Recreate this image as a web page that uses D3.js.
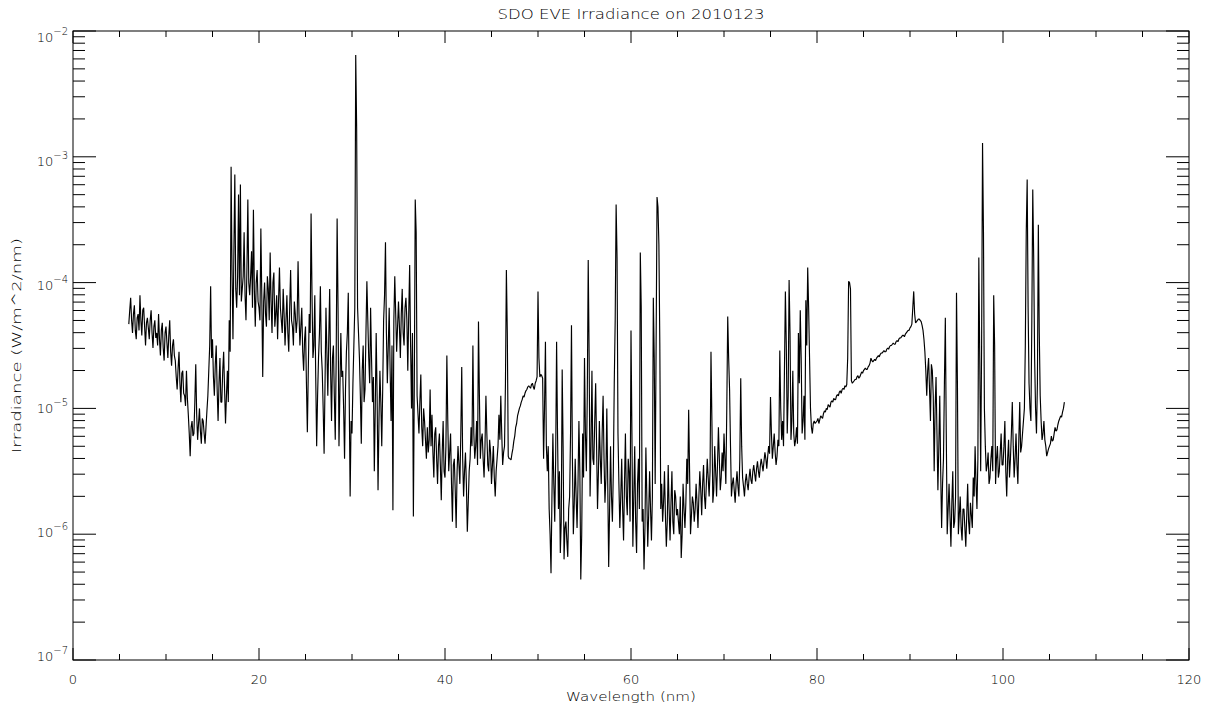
<!DOCTYPE html>
<html lang="en">
<head>
<meta charset="utf-8">
<title>SDO EVE Irradiance</title>
<script src="https://d3js.org/d3.v7.min.js"></script>
<style>
  body { margin: 0; background: #fff; }
  svg text { font-family: "DejaVu Sans", sans-serif; font-weight: 300; fill: #000; }
</style>
</head>
<body>
<script>
// spectrum sampled every 0.1 nm, values are log10 of irradiance (W/m^2/nm)
// one row per nm, first value of each row is at the whole nm
var wavelengthStart = 6.0;
var wavelengthStep = 0.1;
var logIrradiance = [
  -4.33,-4.22,-4.12,-4.30,-4.40,-4.25,-4.18,-4.38,-4.45,-4.28,  // 6
  -4.25,-4.38,-4.10,-4.30,-4.42,-4.22,-4.20,-4.35,-4.50,-4.32,
  -4.28,-4.36,-4.45,-4.30,-4.22,-4.40,-4.52,-4.35,-4.30,-4.44,
  -4.40,-4.50,-4.25,-4.45,-4.58,-4.38,-4.32,-4.52,-4.62,-4.40,
  -4.35,-4.48,-4.60,-4.42,-4.30,-4.55,-4.66,-4.50,-4.45,-4.58,  // 10
  -4.62,-4.75,-4.85,-4.68,-4.55,-4.80,-4.95,-4.72,-4.70,-4.88,
  -4.90,-4.98,-4.70,-4.92,-5.05,-5.20,-5.38,-5.15,-5.10,-5.22,
  -5.20,-4.95,-4.65,-5.05,-5.25,-5.12,-5.00,-5.18,-5.28,-5.08,
  -5.10,-5.20,-5.28,-5.15,-5.02,-4.90,-4.70,-4.50,-4.03,-4.60,
  -4.45,-4.75,-4.90,-4.65,-4.50,-4.85,-5.10,-4.80,-4.60,-4.95,  // 15
  -4.95,-4.70,-4.55,-4.85,-5.12,-4.90,-4.70,-4.95,-4.30,-4.55,
  -3.08,-3.90,-4.45,-3.75,-3.14,-4.05,-4.20,-3.95,-3.30,-4.10,
  -3.22,-4.15,-4.05,-3.95,-3.60,-4.10,-4.30,-3.90,-3.34,-4.00,
  -4.10,-3.95,-3.75,-4.20,-3.42,-4.05,-4.35,-4.00,-3.90,-4.15,
  -4.20,-4.30,-3.57,-4.10,-4.75,-4.15,-4.00,-4.25,-4.35,-3.95,  // 20
  -4.05,-4.30,-3.76,-4.15,-4.40,-4.00,-3.92,-4.35,-4.25,-4.10,
  -4.45,-4.15,-3.88,-4.20,-4.30,-4.40,-4.05,-4.25,-4.50,-4.30,
  -4.10,-4.40,-4.55,-4.20,-3.90,-4.30,-4.35,-4.50,-4.15,-4.25,
  -4.40,-4.30,-3.83,-4.25,-4.50,-4.35,-4.20,-4.55,-4.70,-4.45,
  -4.35,-4.80,-5.19,-4.70,-4.25,-4.40,-3.45,-4.10,-4.60,-4.50,  // 25
  -4.10,-4.75,-5.30,-4.90,-4.60,-4.40,-4.03,-4.55,-4.70,-5.00,
  -5.36,-4.80,-4.20,-4.55,-4.90,-4.45,-4.05,-4.70,-5.10,-4.60,
  -4.50,-4.90,-5.25,-4.60,-3.49,-4.20,-5.30,-4.85,-4.40,-4.75,
  -4.70,-5.00,-5.40,-4.85,-4.55,-4.40,-4.08,-4.90,-5.70,-5.10,
  -5.20,-4.80,-4.50,-4.20,-2.19,-2.77,-4.20,-4.40,-4.60,-4.90,  // 30
  -5.28,-4.70,-4.50,-4.95,-4.85,-4.40,-3.99,-4.30,-4.60,-4.80,
  -4.20,-4.60,-4.95,-4.75,-5.50,-5.00,-4.40,-4.90,-5.65,-5.10,
  -4.70,-4.95,-5.30,-4.85,-4.30,-4.10,-3.68,-4.40,-4.80,-4.50,
  -4.20,-4.70,-5.10,-4.50,-5.81,-4.30,-3.95,-4.25,-4.55,-4.35,
  -4.15,-4.35,-4.60,-4.25,-4.05,-4.40,-4.50,-4.20,-4.12,-4.30,  // 35
  -4.70,-4.25,-3.86,-4.50,-5.00,-4.40,-5.86,-4.80,-3.34,-3.60,
  -4.90,-5.05,-5.20,-4.95,-4.73,-5.15,-5.30,-5.00,-5.10,-5.25,
  -5.40,-5.15,-5.35,-5.25,-4.85,-5.30,-5.05,-5.35,-5.55,-5.20,
  -5.15,-5.40,-5.60,-5.30,-5.20,-5.45,-5.73,-5.35,-5.10,-5.50,
  -5.55,-5.30,-4.58,-5.10,-5.50,-5.35,-5.20,-5.60,-5.90,-5.45,  // 40
  -5.40,-5.65,-5.95,-5.50,-5.30,-5.45,-5.60,-5.20,-4.67,-5.40,
  -5.70,-5.50,-5.35,-5.60,-5.98,-5.75,-5.50,-5.40,-5.15,-5.30,
  -4.50,-5.20,-5.40,-5.30,-5.10,-5.45,-4.31,-4.90,-5.40,-5.25,
  -5.20,-5.40,-5.55,-5.30,-4.90,-5.20,-5.45,-5.50,-5.25,-5.35,
  -5.60,-5.45,-5.30,-5.55,-5.70,-5.50,-5.40,-5.30,-5.05,-5.25,  // 45
  -4.90,-5.20,-5.45,-5.35,-5.30,-4.80,-3.90,-4.40,-5.38,-5.40,
  -5.40,-5.41,-5.36,-5.32,-5.26,-5.22,-5.15,-5.12,-5.06,-5.03,
  -5.00,-4.98,-4.95,-4.93,-4.90,-4.91,-4.88,-4.86,-4.85,-4.83,
  -4.82,-4.83,-4.84,-4.81,-4.80,-4.83,-4.85,-4.80,-4.78,-4.75,
  -4.07,-4.60,-4.75,-4.73,-4.74,-4.76,-5.40,-5.00,-4.47,-5.30,  // 50
  -5.50,-5.30,-5.80,-6.00,-6.31,-5.70,-5.20,-5.60,-5.90,-5.40,
  -4.47,-5.20,-5.80,-5.50,-6.15,-5.90,-4.69,-5.30,-6.20,-5.95,
  -5.90,-6.05,-6.18,-5.80,-5.70,-5.20,-4.34,-5.40,-6.00,-5.75,
  -5.40,-5.70,-5.95,-5.60,-5.10,-5.50,-6.36,-6.00,-5.20,-5.55,
  -4.60,-5.20,-5.50,-4.90,-3.82,-4.60,-5.70,-5.30,-4.70,-5.40,  // 55
  -5.45,-5.10,-4.80,-5.30,-5.80,-5.50,-5.10,-5.40,-5.60,-5.20,
  -4.90,-5.40,-5.75,-5.55,-5.00,-5.60,-6.26,-5.80,-5.30,-5.70,
  -5.90,-5.50,-4.80,-4.30,-3.38,-3.80,-5.20,-5.60,-5.95,-5.70,
  -5.40,-5.80,-6.05,-5.60,-5.20,-5.70,-5.85,-5.40,-5.50,-5.90,
  -4.38,-5.20,-6.10,-5.70,-5.30,-5.90,-6.15,-5.60,-5.40,-5.80,  // 60
  -3.76,-4.20,-5.90,-5.80,-6.28,-5.95,-5.31,-5.70,-6.10,-5.85,
  -5.50,-5.80,-6.05,-5.70,-4.12,-4.60,-5.60,-4.50,-3.32,-3.40,
  -3.70,-4.50,-5.80,-5.60,-5.90,-5.75,-5.50,-5.85,-6.10,-5.90,
  -5.45,-5.80,-6.05,-5.75,-5.50,-5.90,-6.00,-5.65,-5.70,-5.85,
  -5.80,-5.90,-6.00,-5.70,-6.19,-6.00,-5.60,-5.80,-5.95,-5.75,  // 65
  -5.40,-5.60,-5.01,-5.50,-6.00,-5.85,-5.70,-5.75,-5.90,-5.80,
  -5.60,-5.75,-5.95,-5.70,-5.50,-5.65,-5.85,-5.60,-5.45,-5.70,
  -5.80,-5.60,-5.40,-5.55,-5.70,-5.50,-4.55,-5.10,-5.75,-5.65,
  -5.30,-5.50,-5.70,-5.45,-5.15,-5.40,-5.65,-5.55,-5.35,-5.50,
  -5.20,-5.40,-5.60,-5.00,-4.27,-4.60,-4.85,-5.30,-5.70,-5.60,  // 70
  -5.55,-5.65,-5.75,-5.60,-5.50,-5.62,-5.70,-5.40,-4.76,-5.30,
  -5.55,-5.62,-5.70,-5.58,-5.52,-5.60,-5.65,-5.55,-5.48,-5.57,
  -5.60,-5.50,-5.45,-5.52,-5.58,-5.48,-5.42,-5.50,-5.55,-5.46,
  -5.40,-5.45,-5.50,-5.42,-5.35,-5.40,-5.48,-5.38,-5.30,-5.36,
  -4.91,-5.20,-5.40,-5.30,-5.20,-5.35,-5.45,-5.38,-5.25,-5.30,  // 75
  -4.54,-5.00,-5.25,-5.10,-5.30,-4.70,-4.07,-4.50,-5.20,-4.90,
  -3.98,-4.40,-5.25,-5.10,-4.70,-5.20,-5.30,-5.25,-5.15,-5.28,
  -4.40,-4.80,-4.22,-4.60,-5.20,-5.10,-4.90,-5.25,-4.14,-4.50,
  -3.88,-4.20,-4.60,-5.00,-5.15,-5.20,-5.12,-5.10,-5.12,-5.11,
  -5.10,-5.08,-5.12,-5.09,-5.06,-5.07,-5.08,-5.04,-5.02,-5.03,  // 80
  -5.00,-5.01,-4.97,-4.98,-4.99,-4.95,-4.94,-4.95,-4.92,-4.93,
  -4.93,-4.90,-4.89,-4.90,-4.87,-4.86,-4.88,-4.85,-4.84,-4.85,
  -4.82,-4.83,-4.81,-4.60,-3.99,-4.00,-4.05,-4.78,-4.80,-4.79,
  -4.78,-4.77,-4.77,-4.75,-4.74,-4.76,-4.75,-4.73,-4.71,-4.72,
  -4.70,-4.69,-4.68,-4.69,-4.69,-4.67,-4.66,-4.64,-4.60,-4.62,  // 85
  -4.63,-4.62,-4.61,-4.62,-4.60,-4.59,-4.58,-4.59,-4.57,-4.56,
  -4.56,-4.55,-4.54,-4.55,-4.55,-4.53,-4.52,-4.53,-4.51,-4.50,
  -4.50,-4.49,-4.48,-4.49,-4.49,-4.47,-4.46,-4.47,-4.45,-4.44,
  -4.44,-4.43,-4.42,-4.42,-4.43,-4.41,-4.40,-4.39,-4.38,-4.38,
  -4.36,-4.35,-4.33,-4.20,-4.07,-4.25,-4.32,-4.31,-4.30,-4.29,  // 90
  -4.29,-4.30,-4.31,-4.34,-4.38,-4.45,-4.55,-4.70,-4.90,-4.70,
  -4.60,-4.85,-5.10,-4.65,-4.70,-4.90,-5.50,-5.00,-4.75,-5.20,
  -5.65,-5.30,-4.90,-5.50,-5.95,-5.60,-5.40,-4.80,-4.28,-5.20,
  -6.00,-5.80,-5.60,-5.85,-6.10,-5.75,-5.50,-5.95,-5.90,-5.70,
  -4.08,-4.80,-6.00,-5.85,-5.70,-5.95,-6.05,-5.80,-5.80,-5.95,  // 95
  -6.10,-5.85,-5.60,-5.90,-6.00,-5.75,-5.85,-5.95,-5.55,-5.70,
  -5.30,-5.60,-5.80,-5.40,-3.80,-4.60,-5.50,-4.50,-2.89,-3.60,
  -5.00,-5.30,-5.50,-5.45,-5.35,-5.60,-5.55,-5.40,-5.30,-5.50,
  -4.10,-4.50,-5.60,-5.40,-5.30,-5.55,-5.50,-5.35,-5.20,-5.45,
  -5.45,-5.30,-5.10,-5.50,-5.70,-5.40,-5.25,-5.55,-5.40,-5.20,  // 100
  -4.95,-5.30,-5.55,-5.40,-5.20,-5.45,-5.60,-5.25,-4.95,-5.35,
  -5.30,-5.20,-5.10,-5.00,-4.50,-3.60,-3.18,-4.20,-4.80,-5.00,
  -5.10,-4.30,-3.26,-3.80,-4.60,-5.00,-5.20,-4.80,-3.54,-4.40,
  -4.90,-5.10,-5.25,-5.20,-5.10,-5.25,-5.30,-5.38,-5.35,-5.32,
  -5.30,-5.28,-5.22,-5.26,-5.25,-5.20,-5.15,-5.18,-5.17,-5.13,  // 105
  -5.10,-5.08,-5.06,-5.07,-5.03,-5.00,-4.95
];
var xTicks = [0, 20, 40, 60, 80, 100, 120];
var yDecades = [-7, -6, -5, -4, -3, -2];
var titleText = "SDO EVE Irradiance on 2010123";
var xLabel = "Wavelength (nm)";
var yLabel = "Irradiance (W/m^2/nm)";

var w = 1207, h = 709;
var pLeft = 73, pRight = 1189, pTop = 31, pBottom = 660;

var svg = d3.select("body").append("svg")
    .attr("width", w)
    .attr("height", h);

var x = d3.scaleLinear().domain([0, 120]).range([pLeft, pRight]);
var y = d3.scaleLog().domain([1e-7, 1e-2]).range([pBottom, pTop]);

var spectrum = logIrradiance.map(function (v, i) {
    return { wl: wavelengthStart + i * wavelengthStep, irr: Math.pow(10, v) };
});

// spectrum line
var line = d3.line()
    .x(function (d) { return x(d.wl); })
    .y(function (d) { return y(d.irr); });

svg.append("path")
    .datum(spectrum)
    .attr("d", line)
    .attr("fill", "none")
    .attr("stroke", "#000")
    .attr("stroke-width", 1.15)
    .attr("stroke-linejoin", "miter")
    .attr("stroke-miterlimit", 1);

// frame
svg.append("rect")
    .attr("x", pLeft).attr("y", pTop)
    .attr("width", pRight - pLeft).attr("height", pBottom - pTop)
    .attr("fill", "none").attr("stroke", "#000").attr("stroke-width", 1);

// x ticks (major every 20, minor every 5), bottom and top
var xMinor = d3.range(0, 121, 5).filter(function (v) { return v % 20 !== 0; });
function xAxisTicks(g, vals, len) {
    g.selectAll(null).data(vals).enter().append("line")
        .attr("x1", function (d) { return x(d); }).attr("x2", function (d) { return x(d); })
        .attr("y1", pBottom).attr("y2", pBottom - len)
        .attr("stroke", "#000");
    g.selectAll(null).data(vals).enter().append("line")
        .attr("x1", function (d) { return x(d); }).attr("x2", function (d) { return x(d); })
        .attr("y1", pTop).attr("y2", pTop + len)
        .attr("stroke", "#000");
}
var gx = svg.append("g");
xAxisTicks(gx, xTicks, 12);
xAxisTicks(gx, xMinor, 6);

gx.selectAll("text.xt").data(xTicks).enter().append("text")
    .attr("class", "xt")
    .attr("x", function (d) { return x(d); })
    .attr("y", 684)
    .attr("text-anchor", "middle")
    .attr("font-size", 13)
    .text(function (d) { return d; });

// y ticks (decades and 2..9 minors), left and right
var yMajor = yDecades.map(function (e) { return Math.pow(10, e); });
var yMinor = [];
yDecades.slice(0, -1).forEach(function (e) {
    for (var k = 2; k <= 9; k++) yMinor.push(k * Math.pow(10, e));
});
function yAxisTicks(g, vals, len) {
    g.selectAll(null).data(vals).enter().append("line")
        .attr("x1", pLeft).attr("x2", pLeft + len)
        .attr("y1", function (d) { return y(d); }).attr("y2", function (d) { return y(d); })
        .attr("stroke", "#000");
    g.selectAll(null).data(vals).enter().append("line")
        .attr("x1", pRight).attr("x2", pRight - len)
        .attr("y1", function (d) { return y(d); }).attr("y2", function (d) { return y(d); })
        .attr("stroke", "#000");
}
var gy = svg.append("g");
yAxisTicks(gy, yMajor, 23);
yAxisTicks(gy, yMinor, 12);

var ylab = gy.selectAll("text.yt").data(yDecades).enter().append("text")
    .attr("class", "yt")
    .attr("x", 68)
    .attr("y", function (d, i) { return y(Math.pow(10, d)) + 1 + i * 2; })
    .attr("text-anchor", "end")
    .attr("font-size", 13);
ylab.append("tspan").text("10");
ylab.append("tspan")
    .attr("dy", -7)
    .attr("font-size", 10)
    .text(function (d) { return "\u2212" + (-d); });

// titles
svg.append("text")
    .attr("x", (pLeft + pRight) / 2).attr("y", 19)
    .attr("text-anchor", "middle")
    .attr("font-size", 14)
    .attr("textLength", 267)
    .attr("lengthAdjust", "spacingAndGlyphs")
    .text(titleText);

svg.append("text")
    .attr("x", (pLeft + pRight) / 2).attr("y", 701)
    .attr("text-anchor", "middle")
    .attr("font-size", 13)
    .attr("textLength", 130)
    .attr("lengthAdjust", "spacingAndGlyphs")
    .text(xLabel);

svg.append("text")
    .attr("transform", "translate(21," + ((pTop + pBottom) / 2) + ") rotate(-90)")
    .attr("text-anchor", "middle")
    .attr("font-size", 13)
    .attr("textLength", 215)
    .attr("lengthAdjust", "spacingAndGlyphs")
    .text(yLabel);
</script>
</body>
</html>
